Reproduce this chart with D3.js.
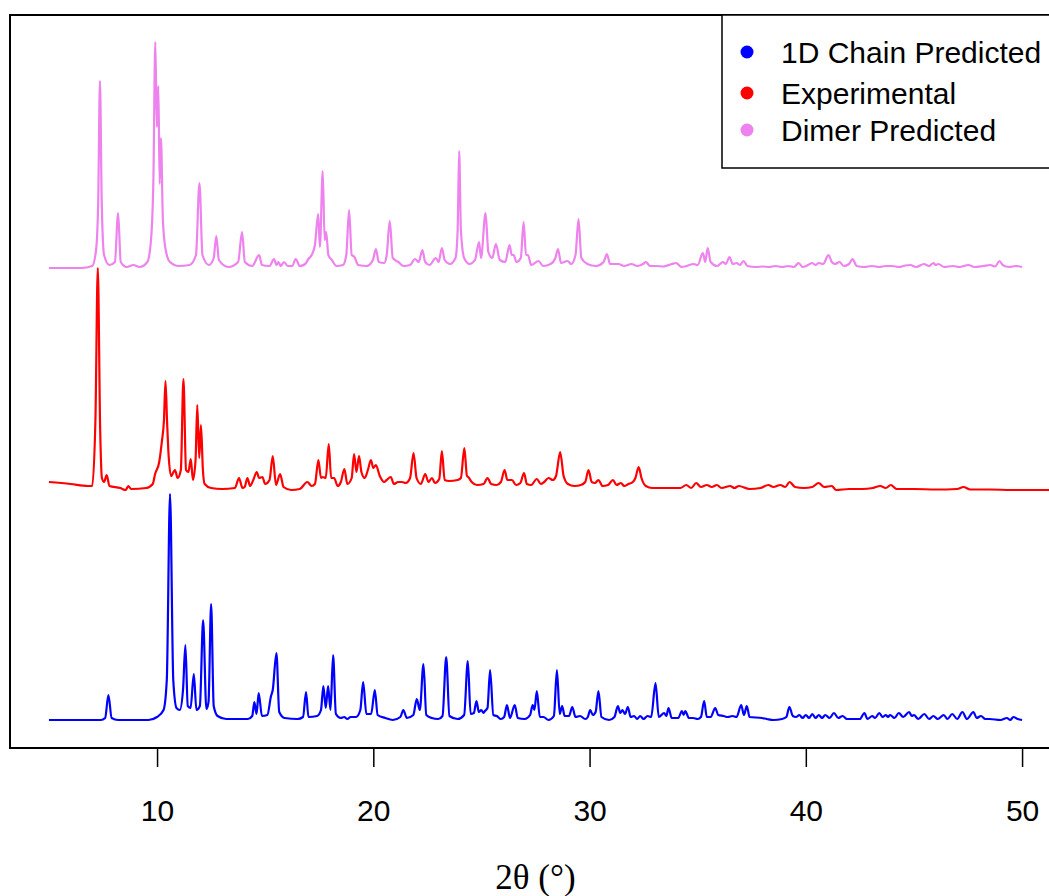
<!DOCTYPE html>
<html>
<head>
<meta charset="utf-8">
<script src="https://cdn.jsdelivr.net/npm/d3@7"></script>
<style>
  body { margin: 0; background: white; }
  svg { display: block; }
</style>
</head>
<body>
<div id="chart"></div>
<script>
// peak profiles: [2theta, intensity above own baseline]
const chainPredicted = [
  [5.0,0],[7.4,0],[7.6,2],[7.75,25],[7.9,2],[8.2,0],
  [9.6,0],[10.0,3],[10.3,10],[10.45,40],[10.6,226],[10.75,40],[10.9,12],[11.05,10],[11.2,30],[11.31,75],[11.42,14],
  [11.55,12],[11.70,46],[11.82,10],[11.98,14],[12.13,100],[12.28,11],[12.38,18],[12.50,116],[12.62,14],[12.8,4],
  [13.2,1],[14.2,1],[14.4,4],[14.5,18],[14.6,6],[14.70,27],[14.85,4],[15.1,5],[15.27,24],[15.35,30],[15.52,67],
  [15.65,8],[15.9,2],[16.5,1],[16.75,3],[16.89,28],[17.0,3],[17.4,4],[17.58,10],[17.69,34],[17.8,12],[17.91,34],
  [18.02,10],[18.14,65],[18.27,6],[18.5,2],[18.65,3],[18.8,1],[18.95,3],[19.2,3],[19.4,10],[19.53,38],[19.68,6],
  [19.9,6],[20.07,30],[20.2,5],[20.55,2],[20.9,0],[21.25,3],[21.39,10],[21.55,2],[21.85,5],[22.01,21],[22.15,10],
  [22.32,56],[22.45,5],[22.7,2],[23.0,1],[23.2,4],[23.37,63],[23.52,4],[23.9,1],[24.2,5],[24.37,59],[24.5,6],
  [24.65,7],[24.77,19],[24.88,8],[24.99,10],[25.1,7],[25.16,9],[25.28,12],[25.40,50],[25.55,5],[25.71,4],[25.9,1],
  [26.05,3],[26.18,15],[26.32,2],[26.54,15],[26.68,2],[27.0,1],[27.25,5],[27.37,15],[27.45,10],[27.56,29],[27.7,3],
  [27.87,3],[28.1,0],[28.35,4],[28.49,50],[28.62,6],[28.73,14],[28.85,4],[29.05,4],[29.2,13],[29.35,3],[29.56,4],
  [29.8,1],[29.92,3],[30.03,10],[30.15,5],[30.28,8],[30.41,29],[30.55,3],[30.9,0],[31.15,3],[31.31,14],[31.42,7],
  [31.52,10],[31.64,6],[31.77,13],[31.9,3],[32.06,4],[32.2,1],[32.34,4],[32.5,1],[32.68,4],[32.85,3],[33.05,37],
  [33.2,3],[33.45,7],[33.55,4],[33.65,12],[33.8,2],[34.1,2],[34.27,9],[34.35,5],[34.42,9],[34.6,2],[34.79,2],
  [35.0,1],[35.15,3],[35.30,19],[35.42,3],[35.6,3],[35.81,12],[35.95,5],[36.2,4],[36.4,3],[36.6,4],[36.8,3],
  [37.01,15],[37.14,5],[37.27,14],[37.4,3],[37.97,2],[38.2,1],[38.5,0],[38.9,1],[39.1,3],[39.24,13],[39.4,4],
  [39.55,3],[39.7,5],[39.85,2],[40.0,5],[40.15,2],[40.3,6],[40.45,2],[40.6,5],[40.75,2],[40.9,5],[41.1,2],[41.3,7],
  [41.5,2],[41.7,4],[41.9,1],[42.1,1],[42.5,1],[42.71,7],[42.85,1],[43.07,4],[43.2,2],[43.4,7],[43.55,3],[43.7,5],
  [43.8,3],[43.9,5],[44.1,2],[44.3,7],[44.5,3],[44.78,8],[44.9,4],[45.0,5],[45.2,1],[45.48,6],[45.7,1],[45.9,4],
  [46.1,1],[46.38,5],[46.55,1],[46.77,6],[47.0,1],[47.24,8],[47.45,1],[47.75,8],[47.9,2],[48.1,4],[48.3,1],
  [48.5,1],[49.0,0],[49.3,2],[49.45,0],[49.6,3],[49.8,1],[50.0,0]
];

const experimental = [
  [5.0,8],[6.0,6],[6.8,4],[7.0,4],[7.15,70],[7.26,222],[7.37,60],[7.45,12],[7.55,8],[7.67,15],[7.8,4],
  [8.3,2],[8.55,0],[8.67,4],[8.8,1],[9.5,2],[9.8,6],[9.91,16],[10.1,28],[10.22,48],[10.32,70],[10.39,109],
  [10.46,70],[10.52,40],[10.65,14],[10.83,20],[10.95,12],[11.1,20],[11.22,111],[11.34,20],[11.45,18],[11.56,31],
  [11.66,10],[11.78,30],[11.86,85],[11.95,32],[12.03,65],[12.12,20],[12.2,6],[12.5,2],[13.0,1],[13.6,2],[13.79,12],
  [13.95,2],[14.05,3],[14.18,12],[14.3,4],[14.45,10],[14.61,18],[14.72,12],[14.87,13],[15.0,6],[15.2,10],
  [15.35,34],[15.5,5],[15.69,16],[15.85,3],[16.2,0],[16.6,1],[16.95,8],[17.15,4],[17.3,6],[17.46,30],[17.58,12],
  [17.66,13],[17.8,12],[17.94,46],[18.05,12],[18.19,12],[18.35,4],[18.5,8],[18.66,21],[18.8,6],[19.0,12],
  [19.11,36],[19.22,18],[19.34,34],[19.45,18],[19.6,12],[19.75,20],[19.89,30],[20.0,22],[20.12,25],[20.3,14],
  [20.5,8],[20.62,10],[20.81,13],[20.95,6],[21.15,8],[21.32,8],[21.5,7],[21.7,12],[21.86,37],[22.0,12],[22.2,6],
  [22.4,16],[22.55,8],[22.71,12],[22.85,7],[23.05,11],[23.17,39],[23.3,10],[23.5,9],[23.9,10],[24.05,12],
  [24.21,42],[24.33,14],[24.39,13],[24.55,8],[24.8,5],[25.1,6],[25.28,12],[25.45,6],[25.7,5],[25.9,8],[26.07,20],
  [26.2,10],[26.41,10],[26.6,5],[26.8,7],[26.97,17],[27.1,6],[27.3,5],[27.56,11],[27.75,6],[27.9,8],[28.1,12],
  [28.3,10],[28.45,14],[28.64,38],[28.8,14],[29.0,6],[29.3,4],[29.6,5],[29.8,8],[29.95,20],[30.1,8],[30.25,7],
  [30.41,10],[30.6,4],[30.85,5],[31.08,10],[31.25,5],[31.45,7],[31.6,4],[31.8,6],[32.0,8],[32.12,12],[32.27,23],
  [32.4,12],[32.6,4],[32.9,2],[33.5,2],[34.2,2],[34.47,5],[34.7,2],[34.93,7],[35.15,3],[35.42,5],[35.65,3],
  [35.89,5],[36.1,2],[36.5,4],[36.7,2],[36.9,4],[37.4,1],[37.9,2],[38.27,5],[38.5,3],[38.82,5],[39.05,3],
  [39.25,8],[39.5,3],[39.9,2],[40.3,3],[40.59,7],[40.85,3],[41.2,4],[41.4,0],[42.0,1],[42.6,1],[43.1,2],
  [43.44,4],[43.7,2],[43.93,5],[44.2,1],[45.0,1],[46.0,0.5],[47.0,1],[47.29,3],[47.6,0.5],[48.5,0.5],[49.5,0],
  [50.5,0],[51.3,0]
];

const dimerPredicted = [
  [5.0,0],[6.5,0],[7.0,2],[7.18,18],[7.28,68],[7.36,187],[7.44,68],[7.55,13],[7.8,3],[8.05,6],[8.2,55],[8.32,6],
  [8.6,1],[8.9,3],[9.2,1],[9.55,6],[9.72,28],[9.83,88],[9.92,226],[9.99,141],[10.06,182],[10.12,84],[10.18,130],
  [10.27,48],[10.4,18],[10.6,6],[11.0,2],[11.5,3],[11.8,13],[11.96,85],[12.1,13],[12.4,3],[12.62,10],[12.74,32],
  [12.86,8],[13.3,1],[13.75,6],[13.93,36],[14.06,6],[14.4,2],[14.72,13],[14.85,3],[15.2,2],[15.41,9],[15.52,3],
  [15.61,6],[15.72,2],[15.87,6],[16.05,2],[16.25,2],[16.41,9],[16.6,2],[16.85,4],[17.0,9],[17.15,13],[17.3,23],
  [17.45,54],[17.53,21],[17.66,97],[17.75,28],[17.82,36],[17.92,13],[18.08,8],[18.3,2],[18.6,3],[18.75,13],
  [18.88,58],[19.0,13],[19.13,11],[19.3,3],[19.7,2],[19.98,8],[20.12,19],[20.25,6],[20.5,5],[20.62,13],[20.76,47],
  [20.9,10],[21.16,6],[21.4,2],[21.7,3],[21.93,9],[22.1,6],[22.27,18],[22.4,6],[22.6,3],[22.89,10],[23.02,6],
  [23.17,20],[23.3,8],[23.55,4],[23.8,10],[23.9,38],[23.97,117],[24.05,38],[24.2,10],[24.45,4],[24.7,8],
  [24.89,26],[24.98,10],[25.19,55],[25.32,16],[25.5,10],[25.67,24],[25.85,8],[26.1,6],[26.3,23],[26.4,13],
  [26.49,13],[26.62,6],[26.82,10],[26.95,46],[27.06,13],[27.15,13],[27.3,3],[27.64,7],[27.85,2],[28.2,4],
  [28.42,10],[28.54,19],[28.68,5],[28.98,7],[29.15,4],[29.35,13],[29.49,49],[29.62,10],[29.9,4],[30.3,2],
  [30.65,6],[30.8,14],[30.95,4],[31.34,4],[31.6,2],[31.94,4],[32.2,2],[32.47,4],[32.6,6],[32.8,2],[33.11,2],
  [33.4,1.5],[33.8,4],[34.0,5],[34.25,1],[34.5,2],[34.8,4],[35.0,3],[35.24,15],[35.35,6],[35.46,20],[35.6,6],
  [35.9,2],[36.17,6],[36.3,4],[36.47,11],[36.62,4],[36.81,5],[36.95,3],[37.12,7],[37.3,2],[37.7,1],[38.0,1.5],
  [38.3,1],[38.6,2],[38.9,1],[39.2,2],[39.45,1],[39.67,5],[39.85,1],[40.1,3],[40.29,5],[40.45,3],[40.6,5],
  [40.8,4],[41.05,13],[41.2,6],[41.35,4],[41.56,6],[41.75,2],[42.0,4],[42.16,9],[42.35,2],[42.7,1],[43.06,2],
  [43.4,1],[43.7,2],[44.0,2],[44.3,1],[44.6,2.5],[44.83,3],[45.1,1],[45.46,4],[45.7,2],[45.9,5],[46.0,3],
  [46.13,4],[46.4,1],[46.8,2],[47.1,1],[47.52,3],[47.8,1],[48.2,2],[48.53,3],[48.75,1.5],[48.96,7],[49.1,3],
  [49.4,1],[49.7,2],[50.0,1]
];

const seriesNames = ["1D Chain Predicted", "Experimental", "Dimer Predicted"];
const seriesColors = ["#0000ff", "#ff0000", "#ee82ee"];
const seriesOffsets = [28, 258, 480];
const xTicks = [10, 20, 30, 40, 50];

const width = 1049, height = 896;
const plot = {left: 10, top: 15, right: 1061, bottom: 748};

const svg = d3.select("#chart").append("svg")
    .attr("width", width)
    .attr("height", height)

const x = d3.scaleLinear().domain([3.2, 51.8]).range([plot.left, plot.right]);
const y = d3.scaleLinear().domain([0, 733]).range([plot.bottom, plot.top]);

svg.append("clipPath").attr("id", "clip")
    .append("rect")
    .attr("x", plot.left).attr("y", plot.top)
    .attr("width", plot.right - plot.left).attr("height", plot.bottom - plot.top)

const allSeries = [chainPredicted, experimental, dimerPredicted];

allSeries.forEach(function(data, i) {
    const line = d3.line()
        .x(d => x(d[0]))
        .y(d => y(d[1] + seriesOffsets[i]))
        .curve(d3.curveMonotoneX)
    svg.append("path")
        .datum(data)
        .attr("clip-path", "url(#clip)")
        .attr("fill", "none")
        .attr("stroke", seriesColors[i])
        .attr("stroke-width", 2.2)
        .attr("stroke-linejoin", "round")
        .attr("d", line)
})

// box
svg.append("rect")
    .attr("x", plot.left).attr("y", plot.top)
    .attr("width", plot.right - plot.left).attr("height", plot.bottom - plot.top)
    .attr("fill", "none")
    .attr("stroke", "black")
    .attr("stroke-width", 2)

// x axis
const xAxis = svg.append("g")
    .attr("transform", `translate(0,${plot.bottom})`)
    .call(d3.axisBottom(x).tickValues(xTicks).tickSize(19).tickPadding(33).tickFormat(d3.format("d")))
xAxis.select(".domain").remove()
xAxis.selectAll("line").attr("stroke", "black").attr("stroke-width", 1.5)
xAxis.selectAll("text")
    .attr("fill", "black")
    .attr("font-family", "'Liberation Sans', Arial, sans-serif")
    .attr("font-size", 30)

svg.append("text")
    .attr("x", (plot.left + plot.right) / 2)
    .attr("y", 889)
    .attr("text-anchor", "middle")
    .style("font-family", "'Liberation Serif', 'Times New Roman', serif")
    .style("font-size", "35px")
    .text("2\u03b8 (\u00b0)")

// legend
const legend = svg.append("g")
legend.append("rect")
    .attr("x", 722).attr("y", plot.top)
    .attr("width", 360).attr("height", 153)
    .attr("fill", "white")
    .attr("stroke", "black")
    .attr("stroke-width", 1.5)

const legendRows = [52, 93, 130];
seriesNames.forEach(function(name, i) {
    legend.append("circle")
        .attr("cx", 747).attr("cy", legendRows[i])
        .attr("r", 6.5)
        .attr("fill", seriesColors[i])
    legend.append("text")
        .attr("x", 781).attr("y", legendRows[i])
        .attr("dy", "0.35em")
        .style("font-family", "'Liberation Sans', Arial, sans-serif")
        .style("font-size", "30px")
        .text(name)
})
</script>
</body>
</html>
